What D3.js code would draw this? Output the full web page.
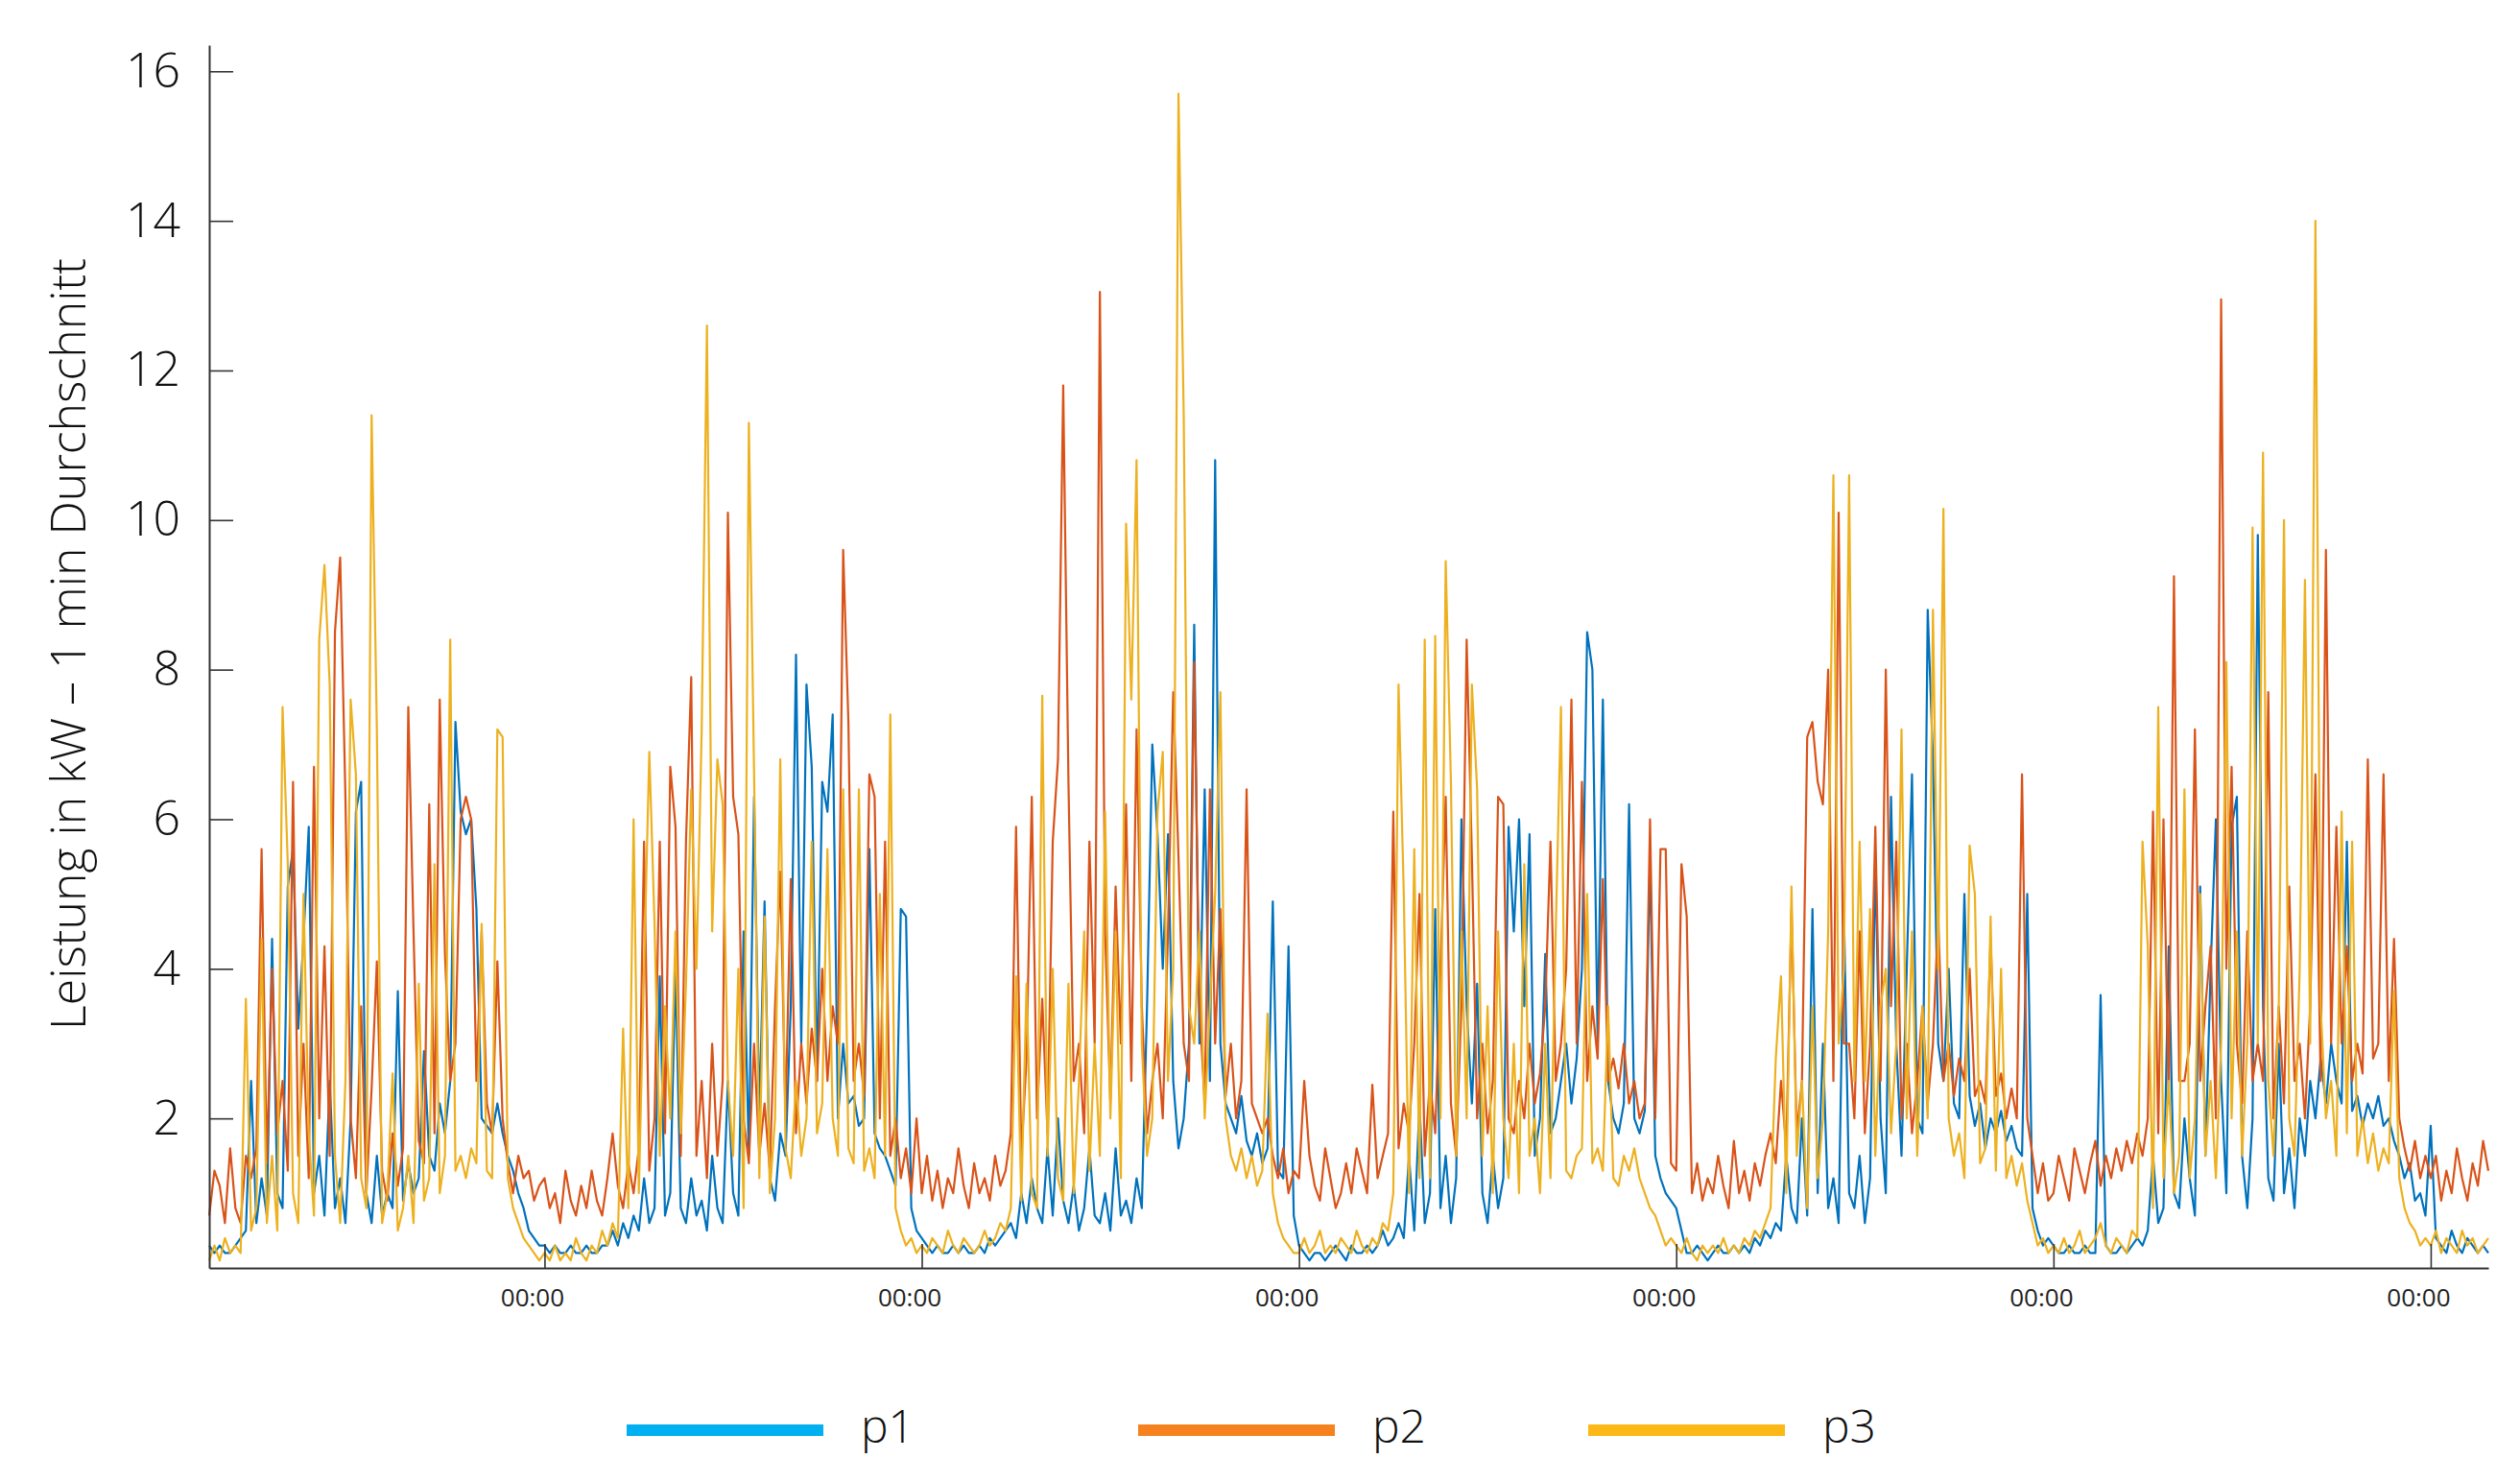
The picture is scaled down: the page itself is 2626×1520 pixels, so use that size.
<!DOCTYPE html>
<html>
<head>
<meta charset="utf-8">
<script src="https://cdn.jsdelivr.net/npm/d3@7"></script>
<style>
  body { margin: 0; background: #fff; }
  svg text { font-family: "Open Sans", "Noto Sans", sans-serif; font-weight: 300; }
</style>
</head>
<body>
<div id="chart"></div>
<script>
// samples every 20 min, first one at 02:40 of day 0
const start = new Date(2021, 0, 4, 2, 40);
const stepMinutes = 20;

const p1 = [
  0.3,0.2,0.3,0.2,0.2,0.3,0.4,0.5,2.5,0.6, 1.2,0.7,4.4,1.0,0.8,5.1,5.6,3.2,4.4,5.9, 1.0,1.5,0.7,2.5,0.8,1.2,0.6,2.0,6.1,6.5, 1.0,0.6,1.5,0.7,1.0,0.8,3.7,0.9,1.4,1.0, 1.2,2.9,1.5,1.3,2.2,1.8,2.5,7.3,6.1,5.8, 6.0,4.8,2.0,1.9,1.8,2.2,1.8,1.5,1.3,1.0, 0.8,0.5,0.4,0.3,
  0.3,0.2,0.3,0.2,0.2,0.3,0.2,0.2,0.3,0.2, 0.2,0.3,0.3,0.5,0.3,0.6,0.4,0.7,0.5,1.2, 0.6,0.8,3.9,0.7,1.0,4.0,0.8,0.6,1.2,0.7, 0.9,0.5,1.5,0.8,0.6,2.5,1.0,0.7,4.5,1.5, 6.3,2.0,4.9,1.2,0.9,1.8,1.5,3.5,8.2,3.0, 7.8,6.7,2.5,6.5,6.1,7.4,2.0,3.0,2.2,2.3, 1.9,2.0,5.6,1.8,1.6,1.5,1.3,1.1,4.8,4.7, 0.8,0.5,
  0.4,0.3,0.2,0.3,0.2,0.2,0.3,0.2,0.3,0.2, 0.2,0.3,0.2,0.4,0.3,0.4,0.5,0.6,0.4,1.0, 0.6,1.2,0.8,0.6,1.6,0.7,2.0,0.9,0.6,1.1, 0.5,0.8,1.6,0.7,0.6,1.0,0.5,1.6,0.7,0.9, 0.6,1.2,0.8,3.5,7.0,5.8,4.0,5.8,2.5,1.6, 2.0,3.0,8.6,3.0,6.4,2.5,10.8,3.0,2.2,2.0, 1.8,2.3,1.7,1.5,1.8,1.4,1.6,4.9,1.3,1.2, 4.3,0.7,
  0.3,0.2,0.1,0.2,0.2,0.1,0.2,0.3,0.2,0.1, 0.3,0.2,0.2,0.3,0.2,0.3,0.5,0.3,0.4,0.6, 0.4,1.5,0.5,2.2,0.6,1.0,4.8,0.8,1.5,0.6, 1.2,6.0,3.5,2.2,3.8,1.0,0.6,1.5,0.8,1.2, 5.9,4.5,6.0,3.5,5.8,1.5,2.0,4.2,1.8,2.0, 2.5,3.0,2.2,2.8,4.0,8.5,8.0,3.0,7.6,2.5, 2.0,1.8,2.2,6.2,2.0,1.8,2.1,5.5,1.5,1.2, 1.0,0.9,
  0.8,0.5,0.2,0.2,0.3,0.2,0.1,0.2,0.3,0.2, 0.2,0.3,0.2,0.3,0.2,0.4,0.3,0.5,0.4,0.6, 0.5,1.5,0.8,0.6,2.0,0.7,4.8,1.0,3.0,0.8, 1.2,0.6,4.8,1.0,0.8,1.5,0.6,1.2,5.5,2.0, 1.0,6.3,3.0,1.5,4.0,6.6,2.0,1.8,8.8,6.8, 3.0,2.5,4.0,2.2,2.0,5.0,2.3,1.9,2.2,1.6, 2.0,1.8,2.1,1.7,1.9,1.6,1.5,5.0,0.8,0.5, 0.3,0.4,
  0.3,0.2,0.2,0.3,0.2,0.2,0.3,0.2,0.2,3.65, 0.3,0.2,0.2,0.3,0.2,0.3,0.4,0.3,0.5,1.5, 0.6,0.8,4.3,1.0,0.8,2.0,1.2,0.7,5.1,1.5, 4.0,6.0,2.5,1.0,5.9,6.3,1.5,0.8,2.0,9.8, 3.5,1.2,0.9,3.0,1.0,1.6,0.8,2.0,1.5,2.5, 2.0,2.8,2.2,3.0,2.5,2.2,5.7,2.1,2.3,1.9, 2.2,2.0,2.3,1.9,2.0,1.7,1.5,1.2,1.4,0.9, 1.0,0.7,
  1.9,0.4,0.3,0.2,0.5,0.3,0.2,0.4,0.3,0.2,0.3,0.2
];

const p2 = [
  0.7,1.3,1.1,0.6,1.6,0.8,0.6,1.5,1.2,1.6, 5.6,1.4,4.0,1.8,2.5,1.3,6.5,1.5,3.0,1.2, 6.7,2.0,4.3,1.5,8.5,9.5,6.3,2.0,1.2,3.5, 1.0,2.4,4.1,1.3,0.9,1.8,1.1,1.6,7.5,4.5, 1.7,1.4,6.2,1.8,7.6,4.2,2.5,3.0,6.0,6.3, 6.0,2.5,4.5,2.2,1.8,4.1,2.0,1.4,1.0,1.5, 1.2,1.3,0.9,1.1,
  1.2,0.8,1.0,0.6,1.3,0.9,0.7,1.1,0.8,1.3, 0.9,0.7,1.2,1.8,1.1,0.8,1.4,1.0,1.6,5.7, 1.3,2.0,5.7,1.8,6.7,5.9,1.5,5.7,7.9,1.5, 2.5,1.2,3.0,1.5,2.5,10.1,6.3,5.8,2.0,1.4, 3.0,1.5,2.2,1.3,3.5,5.3,2.0,5.2,1.8,3.0, 2.2,3.2,2.5,4.0,2.5,3.5,3.0,9.6,7.3,2.5, 3.0,2.3,6.6,6.3,2.0,5.7,1.5,2.0,1.2,1.6, 1.0,2.0,
  1.0,1.5,0.9,1.3,0.8,1.2,1.0,1.6,1.1,0.8, 1.4,1.0,1.2,0.9,1.5,1.1,1.3,1.8,5.9,1.5, 2.8,6.3,2.0,3.6,1.8,5.7,6.8,11.8,6.5,2.5, 3.0,1.8,5.7,3.0,13.05,4.5,2.2,5.1,3.0,6.2, 2.5,7.2,3.5,1.8,2.5,3.0,2.0,4.5,7.7,5.5, 3.0,2.5,8.1,3.5,2.2,6.4,3.0,4.8,2.3,3.0, 2.0,2.5,6.4,2.2,2.0,1.8,2.0,1.5,1.2,1.6, 1.0,1.3,
  1.2,2.5,1.5,1.1,0.9,1.6,1.2,0.8,1.0,1.4, 1.0,1.6,1.3,1.0,2.45,1.2,1.5,1.8,6.1,1.6, 2.2,1.8,3.0,5.0,1.5,2.5,1.8,4.0,6.3,2.2, 1.5,3.5,8.4,5.5,2.0,3.0,1.8,2.5,6.3,6.2, 2.0,1.8,2.5,2.0,3.0,2.2,2.6,3.5,5.7,2.5, 3.0,4.0,7.6,3.0,6.5,2.5,3.5,2.8,5.2,2.5, 2.8,2.4,3.0,2.2,2.5,2.0,2.2,6.0,2.0,5.6, 5.6,1.4,
  1.3,5.4,4.7,1.0,1.4,0.9,1.2,1.0,1.5,1.1, 0.8,1.7,1.0,1.3,0.9,1.4,1.1,1.5,1.8,1.4, 2.5,1.6,4.8,1.8,2.5,7.1,7.3,6.5,6.2,8.0, 2.5,10.1,3.0,3.0,2.0,4.5,1.8,3.0,5.9,2.5, 8.0,3.5,5.7,2.0,3.0,1.8,2.5,3.5,2.2,3.0, 4.7,2.5,3.0,2.3,2.8,2.5,4.0,2.3,2.5,2.2, 4.4,2.3,2.6,2.0,2.4,2.0,6.6,2.0,1.5,1.0, 1.4,0.9,
  1.0,1.5,1.2,0.9,1.6,1.3,1.0,1.4,1.7,1.1, 1.5,1.2,1.6,1.3,1.7,1.4,1.8,1.5,2.0,6.1, 1.8,6.0,2.2,9.25,2.5,2.5,3.0,7.2,2.5,3.5, 4.3,2.0,12.95,4.0,6.7,3.0,2.2,4.5,2.5,3.0, 2.5,7.7,2.0,3.5,2.2,5.1,2.5,3.0,2.0,3.5, 6.6,2.5,9.6,3.0,5.9,3.0,4.3,2.5,3.0,2.6, 6.8,2.8,3.0,6.6,2.5,4.4,2.0,1.6,1.3,1.7, 1.2,1.5,
  1.2,1.5,0.9,1.3,1.0,1.6,1.2,0.9,1.4,1.1,1.7,1.3
];

const p3 = [
  0.1,0.3,0.1,0.4,0.2,0.3,0.2,3.6,0.5,0.8, 4.4,0.6,1.5,0.5,7.5,5.4,1.0,0.6,5.0,1.8, 0.7,8.4,9.4,7.8,1.5,0.6,2.5,7.6,6.6,1.2, 0.8,11.4,7.2,0.6,1.0,2.6,0.5,0.8,1.5,0.6, 3.8,0.9,1.2,5.4,1.0,1.5,8.4,1.3,1.5,1.2, 1.6,1.4,4.6,1.3,1.2,7.2,7.1,1.2,0.8,0.6, 0.4,0.3,0.2,0.1,
  0.2,0.1,0.3,0.1,0.2,0.1,0.4,0.2,0.1,0.3, 0.2,0.5,0.3,0.6,0.4,3.2,0.8,6.0,1.0,4.0, 6.9,4.6,1.5,3.5,2.0,4.5,1.8,3.8,6.4,4.0, 7.2,12.6,4.5,6.8,6.2,2.5,1.5,4.0,0.8,11.3, 6.6,1.2,4.7,1.0,2.0,6.8,1.6,1.2,2.5,1.5, 2.0,5.7,1.8,2.2,5.6,2.0,1.5,6.4,1.6,1.4, 6.4,1.3,1.6,1.2,5.0,1.5,7.4,0.8,0.5,0.3, 0.4,0.2,
  0.3,0.2,0.4,0.3,0.2,0.5,0.3,0.2,0.4,0.3, 0.2,0.3,0.5,0.3,0.4,0.6,0.5,0.8,3.9,0.9, 3.8,1.0,0.8,7.65,1.5,4.0,1.2,0.9,3.8,1.0, 2.5,4.5,1.3,3.0,1.5,6.1,2.0,4.5,1.2,9.95, 7.6,10.8,3.0,1.5,2.0,6.1,6.9,2.5,4.0,15.7, 11.4,3.5,3.0,4.5,2.0,3.5,5.0,7.7,2.0,1.5, 1.3,1.6,1.2,1.5,1.1,1.3,3.4,1.0,0.6,0.4, 0.3,0.2,
  0.2,0.4,0.2,0.3,0.5,0.2,0.3,0.2,0.4,0.3, 0.2,0.5,0.3,0.2,0.4,0.3,0.6,0.5,1.0,7.8, 5.0,1.0,5.6,1.2,8.4,1.2,8.45,2.0,9.45,6.5, 1.5,4.5,2.0,7.8,6.4,1.5,3.5,1.0,4.5,2.0, 1.2,3.0,1.0,5.4,1.5,2.0,1.0,3.0,1.2,4.5, 7.5,1.3,1.2,1.5,1.6,5.0,1.4,1.6,1.3,3.5, 1.2,1.1,1.5,1.3,1.6,1.2,1.0,0.8,0.7,0.5, 0.3,0.4,
  0.3,0.2,0.4,0.2,0.1,0.3,0.2,0.3,0.2,0.4, 0.2,0.3,0.2,0.4,0.3,0.5,0.4,0.6,0.8,2.8, 3.9,1.0,5.1,1.5,2.5,0.8,3.5,1.2,2.0,4.5, 10.6,3.0,4.0,10.6,2.5,5.7,2.5,4.8,1.5,3.5, 4.0,1.8,3.0,7.2,2.0,4.5,1.5,3.5,2.0,8.8, 4.0,10.15,2.0,1.5,1.8,1.2,5.65,5.0,1.4,1.6, 4.7,1.3,4.0,1.2,1.5,1.1,1.4,0.9,0.6,0.3, 0.4,0.2,
  0.3,0.2,0.4,0.2,0.3,0.5,0.2,0.3,0.4,0.6, 0.3,0.2,0.4,0.3,0.2,0.5,0.4,5.7,4.3,0.8, 7.5,1.2,2.5,1.0,1.5,6.4,1.2,2.0,5.0,1.5, 2.5,1.2,3.0,8.1,2.0,4.5,1.5,3.0,9.9,3.0, 10.9,2.5,1.5,3.5,10.0,2.0,1.5,4.0,9.2,3.0, 14.0,3.5,2.0,2.5,1.5,6.1,1.8,5.7,1.5,2.0, 1.4,1.8,1.3,1.6,1.4,3.7,1.2,0.8,0.6,0.5, 0.3,0.4,
  0.3,0.5,0.2,0.4,0.3,0.2,0.5,0.3,0.4,0.2,0.3,0.4
];

const seriesNames = ["p1", "p2", "p3"];
const lineColors = ["#0072BD", "#D95319", "#EDB120"];
const legendColors = ["#00B0F0", "#F5821F", "#FBB817"];
const yTicks = [2, 4, 6, 8, 10, 12, 14, 16];
const yLabel = "Leistung in kW \u2013 1 min Durchschnitt";

let w = 2626;
let h = 1520;
let plotLeft = 218, plotRight = 2593, plotBottom = 1321, plotTop = 47;

let svg = d3.select("#chart")
    .append("svg")
    .attr("width", w)
    .attr("height", h);

function timeAt(i) {
    return d3.timeMinute.offset(start, i * stepMinutes);
}

let x = d3.scaleTime()
    .domain([start, timeAt(p1.length - 1)])
    .range([plotLeft, plotRight]);

let y = d3.scaleLinear()
    .domain([0, 16.35])
    .range([plotBottom, plotTop]);

// lines
let lineMaker = d3.line()
    .x((d, i) => x(timeAt(i)))
    .y(d => y(d));

[p1, p2, p3].forEach(function (values, k) {
    svg.append("path")
        .datum(values)
        .attr("d", lineMaker)
        .attr("fill", "none")
        .attr("stroke", lineColors[k])
        .attr("stroke-width", 2.2)
        .attr("stroke-linejoin", "round");
});

// y axis, ticks pointing inwards
let yAxis = svg.append("g")
    .attr("transform", "translate(" + plotLeft + ",0)")
    .call(d3.axisLeft(y).tickValues(yTicks).tickSize(-25).tickSizeOuter(0).tickPadding(30));

yAxis.select(".domain").attr("stroke", "#333").attr("stroke-width", 2);
yAxis.selectAll(".tick line").attr("stroke", "#333").attr("stroke-width", 1.6);
yAxis.selectAll(".tick text")
    .attr("font-size", 50)
    .attr("fill", "#111")
    .attr("font-family", "'Open Sans', 'Noto Sans', sans-serif");

// x axis, one tick per midnight
let xAxis = svg.append("g")
    .attr("transform", "translate(0," + plotBottom + ")")
    .call(d3.axisBottom(x)
        .ticks(d3.timeDay.every(1))
        .tickFormat(d3.timeFormat("%H:%M"))
        .tickSize(-25)
        .tickSizeOuter(0)
        .tickPadding(22));

xAxis.select(".domain").attr("stroke", "#333").attr("stroke-width", 2);
xAxis.selectAll(".tick line").attr("stroke", "#333").attr("stroke-width", 1.6);
xAxis.selectAll(".tick text")
    .attr("x", -13)
    .attr("font-size", 26)
    .attr("fill", "#222")
    .attr("font-family", "'Open Sans', 'Noto Sans', sans-serif")
    .style("font-weight", 400);

// y label
let yl = svg.append("text")
    .attr("transform", "translate(89,671) rotate(-90)")
    .attr("text-anchor", "middle")
    .attr("font-size", 50)
    .attr("fill", "#111")
    .text(yLabel);
let len = yl.node().getComputedTextLength();
if (len > 830) {
    yl.attr("font-size", 50 * 830 / len);
}

// legend
let legendX = [653, 1186, 1655];
let legend = svg.selectAll(".legendItem")
    .data(seriesNames)
    .enter()
    .append("g")
    .attr("class", "legendItem")
    .attr("transform", (d, i) => "translate(" + legendX[i] + ",1490)");

legend.append("line")
    .attr("x1", 0)
    .attr("x2", 205)
    .attr("y1", 0)
    .attr("y2", 0)
    .attr("stroke", (d, i) => legendColors[i])
    .attr("stroke-width", 12);

legend.append("text")
    .attr("x", 244)
    .attr("y", 13)
    .attr("font-size", 48)
    .attr("fill", "#111")
    .text(d => d);
</script>
</body>
</html>
